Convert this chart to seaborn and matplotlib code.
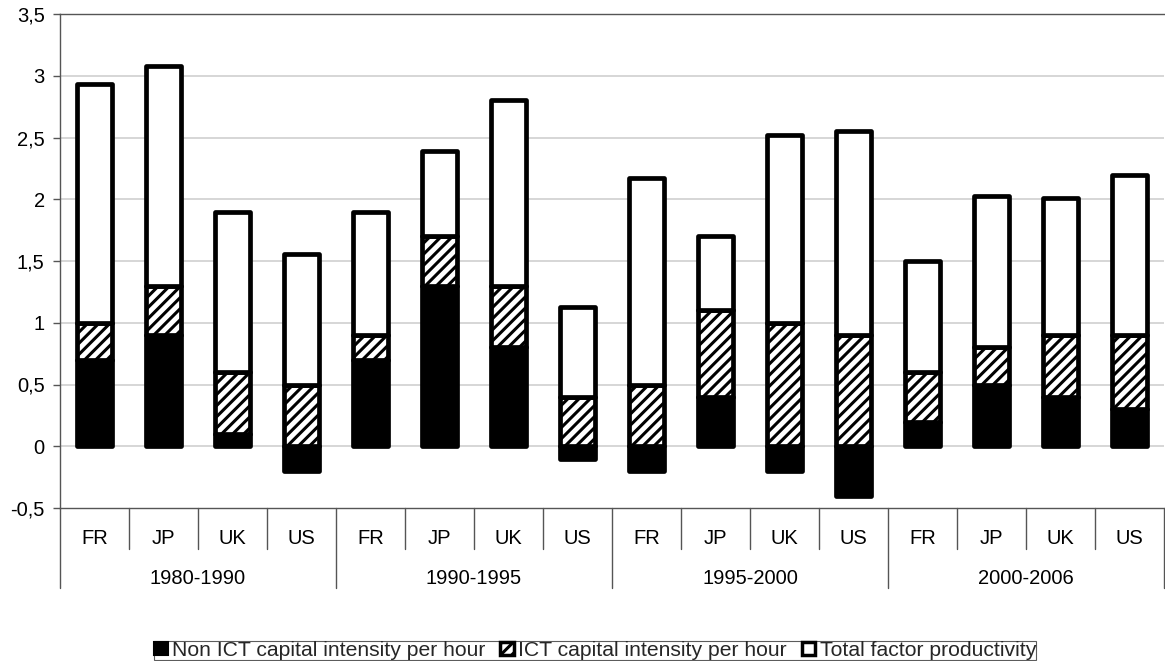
import matplotlib
matplotlib.use("Agg")
import matplotlib.pyplot as plt
import matplotlib.transforms as mtransforms
from matplotlib.patches import Patch
import seaborn as sns
import numpy as np
import pandas as pd

periods = ["1980-1990", "1990-1995", "1995-2000", "2000-2006"]
countries = ["FR", "JP", "UK", "US"]
non_ict = [0.70, 0.90, 0.10, -0.20,
           0.70, 1.30, 0.80, -0.10,
           -0.20, 0.40, -0.20, -0.40,
           0.20, 0.50, 0.40, 0.30]
ict = [0.30, 0.40, 0.50, 0.50,
       0.20, 0.40, 0.50, 0.40,
       0.50, 0.70, 1.00, 0.90,
       0.40, 0.30, 0.50, 0.60]
tfp = [1.93, 1.78, 1.30, 1.06,
       1.00, 0.69, 1.50, 0.73,
       1.67, 0.60, 1.52, 1.65,
       0.90, 1.23, 1.11, 1.30]
series_names = ["Non ICT capital intensity per hour",
                "ICT capital intensity per hour",
                "Total factor productivity"]
y_ticks = [-0.5, 0, 0.5, 1, 1.5, 2, 2.5, 3, 3.5]

sns.set_theme(style="white")
plt.rcParams["font.family"] = ["Liberation Sans", "DejaVu Sans"]
plt.rcParams["hatch.linewidth"] = 2.2
plt.rcParams["hatch.color"] = "black"

FS = 14.5

n = len(periods) * len(countries)
cats = [f"{p}_{c}" for p in periods for c in countries]
df = pd.DataFrame({
    "cat": cats,
    "non_ict": non_ict,
    "ict": ict,
    "tfp": tfp,
})
df["ict_bottom"] = np.maximum(df["non_ict"], 0)
df["tfp_bottom"] = df["ict_bottom"] + df["ict"]

fig = plt.figure(figsize=(11.65, 6.61), dpi=100)
ax = fig.add_axes([60 / 1165, 1 - 508 / 661, 1104 / 1165, 494 / 661])

ax.set_axisbelow(True)
for yv in y_ticks[1:]:
    ax.axhline(yv, color="#d0d0d0", lw=1.2, zorder=0)

bw = 0.50
lw = 3.4
sns.barplot(data=df, x="cat", y="non_ict", order=cats, color="black",
            edgecolor="black", linewidth=lw, width=bw, saturation=1,
            ax=ax, label=series_names[0], zorder=3)
sns.barplot(data=df, x="cat", y="ict", order=cats, color="white",
            edgecolor="black", linewidth=lw, width=bw, saturation=1,
            bottom=df["ict_bottom"].values, hatch="///",
            ax=ax, label=series_names[1], zorder=3)
sns.barplot(data=df, x="cat", y="tfp", order=cats, color="white",
            edgecolor="black", linewidth=lw, width=bw, saturation=1,
            bottom=df["tfp_bottom"].values,
            ax=ax, label=series_names[2], zorder=3)
for p in ax.patches:
    p.set_joinstyle("round")

ax.set_xlim(-0.5, n - 0.5)
ax.set_ylim(-0.5, 3.5)
ax.set_yticks(y_ticks)
ax.set_yticklabels([("%g" % v).replace(".", ",") for v in y_ticks])
ax.set_xticks([])
ax.set_xlabel("")
ax.set_ylabel("")
ax.tick_params(axis="y", length=5, width=1, color="#555555", labelsize=FS,
               labelcolor="black", pad=6, left=True)

for side in ["left", "top", "bottom"]:
    ax.spines[side].set_visible(True)
    ax.spines[side].set_color("#555555")
    ax.spines[side].set_linewidth(1.0)
ax.spines["right"].set_visible(False)
if ax.get_legend() is not None:
    ax.get_legend().remove()

trans = mtransforms.blended_transform_factory(ax.transData, ax.transAxes)
labels_c = [c for p in periods for c in countries]
for i, lab in enumerate(labels_c):
    ax.text(i, -30 / 494, lab, transform=trans, ha="center", va="center",
            fontsize=FS, color="black")
for i in range(n + 1):
    xb = i - 0.5
    ybot = -80 / 494 if i % len(countries) == 0 else -41 / 494
    ax.plot([xb, xb], [0, ybot], transform=trans, color="#555555", lw=1.0,
            clip_on=False)
for j, p in enumerate(periods):
    xc = j * len(countries) + (len(countries) - 1) / 2
    ax.text(xc, -70 / 494, p, transform=trans, ha="center", va="center",
            fontsize=FS, color="black")

hdl = [Patch(facecolor="black", edgecolor="black", lw=1.5),
       Patch(facecolor="white", edgecolor="black", hatch="///", lw=2.5),
       Patch(facecolor="white", edgecolor="black", lw=2.5)]
leg = fig.legend(hdl, series_names, loc="center",
                 bbox_to_anchor=(595 / 1165, 1 - 650.5 / 661), ncol=3,
                 frameon=True, fancybox=False, edgecolor="#333333",
                 prop={"family": ["Liberation Sans Narrow", "Liberation Sans"],
                       "size": 15.2},
                 handlelength=0.65, handleheight=0.6,
                 handletextpad=0.2, columnspacing=0.7, borderpad=0.0,
                 borderaxespad=0)
leg.get_frame().set_linewidth(0.8)

fig.savefig("out.png", dpi=100, facecolor="white")
